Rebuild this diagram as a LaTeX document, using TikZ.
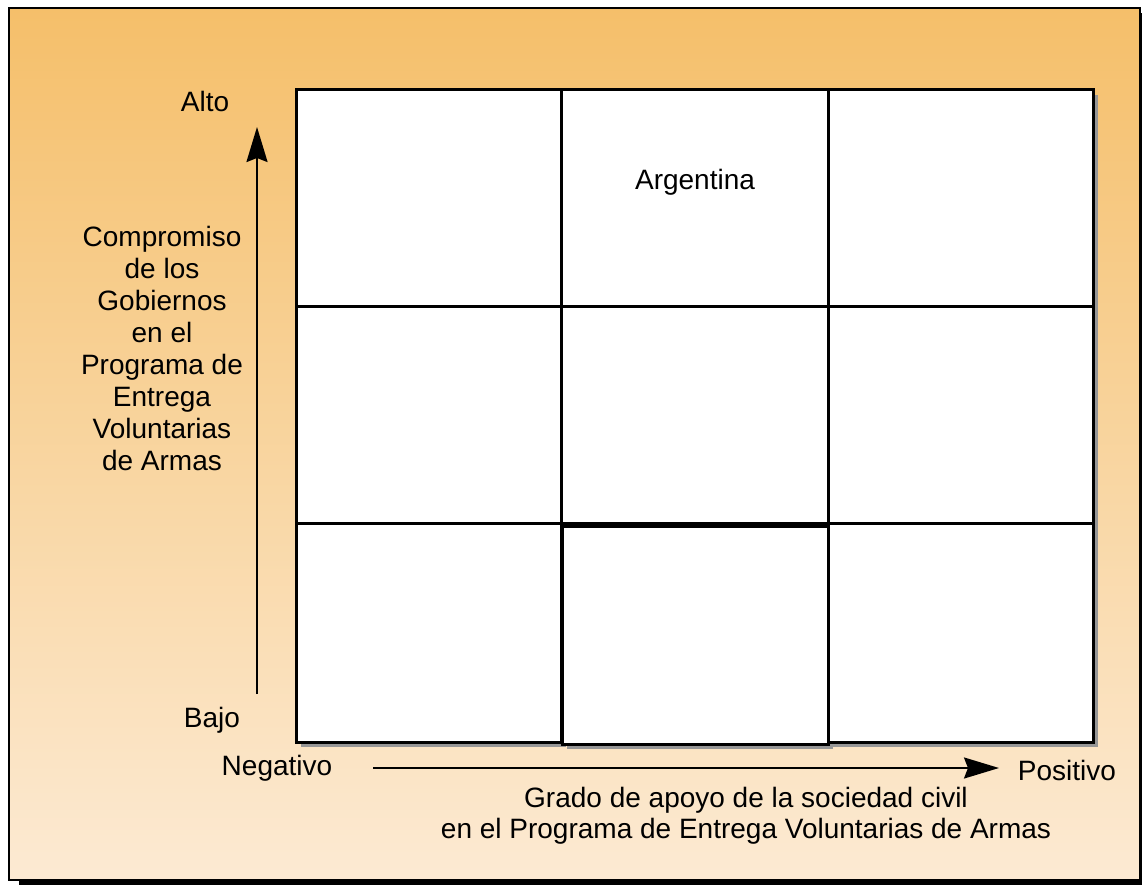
\documentclass[tikz,border=0pt]{standalone}
\usepackage{fontspec}
\setmainfont{Liberation Sans}
\usetikzlibrary{arrows.meta,shadows}
\definecolor{topor}{RGB}{245,191,106}
\definecolor{botor}{RGB}{252,234,211}
\definecolor{shadowgray}{RGB}{150,150,150}
\begin{document}
\begin{tikzpicture}[x=1pt,y=-1pt,
  framebox/.style={draw=black,line width=2.2pt,top color=topor,bottom color=botor,
    minimum width=1131pt,minimum height=872pt,inner sep=0pt,outer sep=0pt,anchor=north west,
    drop shadow={shadow xshift=10pt,shadow yshift=-5pt,fill=black,opacity=1}},
  cell/.style={draw=black,line width=3pt,fill=white,minimum width=265pt,minimum height=216pt,
    inner sep=0pt,outer sep=0pt,anchor=north west,
    drop shadow={shadow xshift=5pt,shadow yshift=-5pt,fill=shadowgray,opacity=1}},
  lbl/.style={font=\fontsize{28}{32}\selectfont,inner sep=0pt,align=center},
  axisarrow/.style={line width=2.2pt,-{Stealth[length=35pt,width=21pt,inset=4pt]}}]
\useasboundingbox (0,0) rectangle (1142,885);
\node[framebox] (frame) at (9,8) {};
% grid cells
\node[cell] (c11) at (296,90) {};
\node[cell,minimum width=267pt] (c12) at (561,90) {};
\node[cell] (c13) at (828,90) {};
\node[cell,minimum height=217pt] (c21) at (296,306) {};
\node[cell,minimum width=267pt,minimum height=217pt] (c22) at (561,306) {};
\node[cell,minimum height=217pt] (c23) at (828,306) {};
\node[cell,minimum height=219pt] (c31) at (296,523) {};
\node[cell,minimum width=266pt,minimum height=218pt] (c32) at (562,526) {};
\node[cell,minimum height=219pt] (c33) at (828,523) {};
% texts
\node[lbl] (argentina) at (695,182) {Argentina};
\node[lbl] (alto) at (205,101) {Alto};
\node[lbl] (bajo) at (212,720) {Bajo};
\node[lbl] (ylabel) at (162,348) {Compromiso\\de los\\Gobiernos\\en el\\Programa de\\Entrega\\Voluntarias\\de Armas};
\node[lbl] (negativo) at (277,768) {Negativo};
\node[lbl] (positivo) at (1067,770) {Positivo};
\node[lbl,font=\fontsize{28}{31}\selectfont] (xlabel) at (746,816) {Grado de apoyo de la sociedad civil\\en el Programa de Entrega Voluntarias de Armas};
% axes
\coordinate (ystart) at (257,694);
\coordinate (yend) at (257,127);
\coordinate (xstart) at (373,768);
\coordinate (xend) at (999,768);
\draw[axisarrow] (ystart) -- (yend);
\draw[axisarrow] (xstart) -- (xend);
\end{tikzpicture}
\end{document}
